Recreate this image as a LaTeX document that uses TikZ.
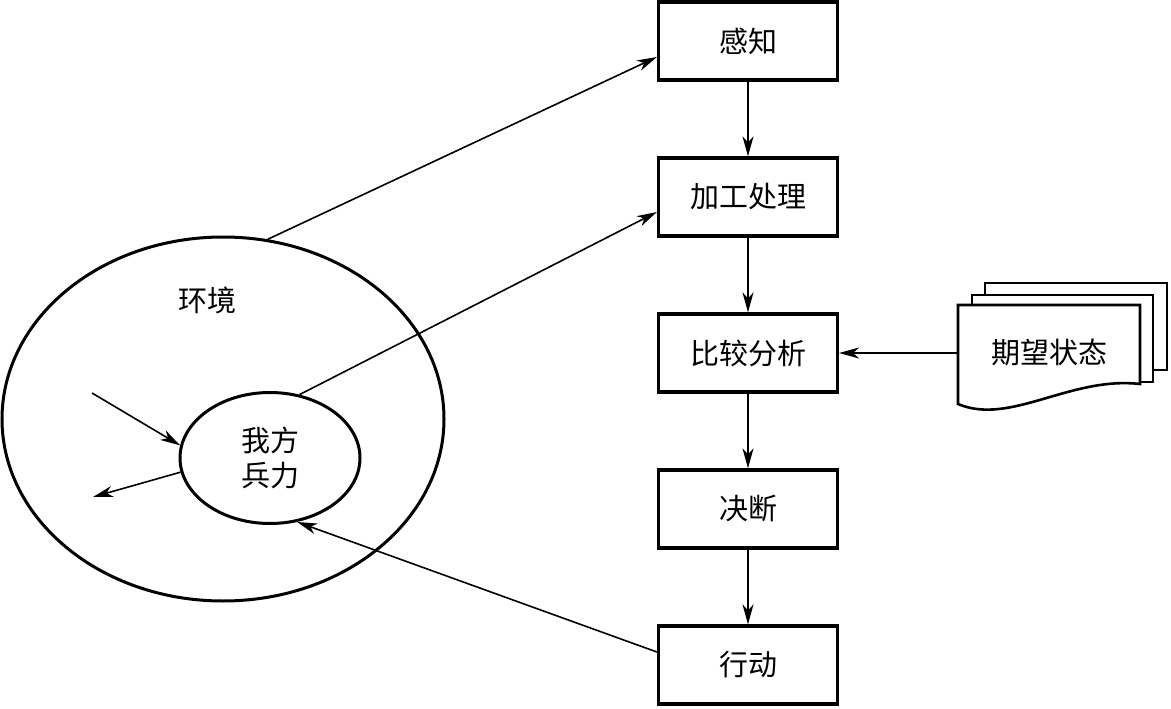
\documentclass[tikz,border=0pt]{standalone}
\usepackage{fontspec}
\newfontfamily\cjk{Noto Sans CJK SC}
\usetikzlibrary{arrows.meta,shapes.geometric,calc}
\tikzset{
  stepbox/.style={draw,line width=3.2pt,minimum width=179pt,minimum height=78pt,inner sep=0pt,font=\cjk\fontsize{29}{31}\selectfont},
  oval/.style={draw,ellipse,line width=3pt,inner sep=0pt},
  conn/.style={line width=1.6pt,-{Stealth[length=20pt,width=11pt,inset=6pt]}},
  sheet/.style={draw,line width=2.6pt,fill=white},
  lbl/.style={font=\cjk\fontsize{29}{35}\selectfont,align=center,inner sep=0pt}
}
\begin{document}
\begin{tikzpicture}[x=1pt,y=-1pt]
\useasboundingbox (0,0) rectangle (1171,709);
% flow boxes
\node[stepbox] (b1) at (748,41) {感知};
\node[stepbox] (b2) at (748,197) {加工处理};
\node[stepbox] (b3) at (748,353) {比较分析};
\node[stepbox] (b4) at (748,509) {决断};
\node[stepbox] (b5) at (748,665) {行动};
% ellipses
\node[oval,minimum width=442pt,minimum height=364pt] (outer) at (223,419) {};
\node[oval,minimum width=180pt,minimum height=131pt] (inner) at (270,458) {};
\node[lbl] (env) at (207,300) {环境};
\node[lbl] (own) at (270,458) {我方\\兵力};
% document stack
\draw[sheet] (985,283) rectangle (1167,370);
\draw[sheet] (972,295) rectangle (1153,382);
\draw[sheet] (958,305) -- (1140,305) -- (1140,384)
  .. controls (1070,376) and (1010,426) .. (958,404) -- cycle;
\node[lbl] (doc) at (1049,352) {期望状态};
\coordinate (docin) at (958,353);
% vertical connectors
\draw[conn] (b1) -- (b2);
\draw[conn] (b2) -- (b3);
\draw[conn] (b3) -- (b4);
\draw[conn] (b4) -- (b5);
\draw[conn] (docin) -- (b3.east);
% connectors with the environment
\draw[conn] (outer.76) -- ([yshift=-16pt]b1.west);
\draw[conn] (inner.65) -- ([yshift=-15pt]b2.west);
\draw[conn] ([yshift=13pt]b5.west) -- (inner.-67);
\coordinate (extin) at (92,393);
\coordinate (extout) at (93,497);
\draw[conn] (extin) -- (inner.172);
\draw[conn] (inner.189) -- (extout);
\end{tikzpicture}
\end{document}
